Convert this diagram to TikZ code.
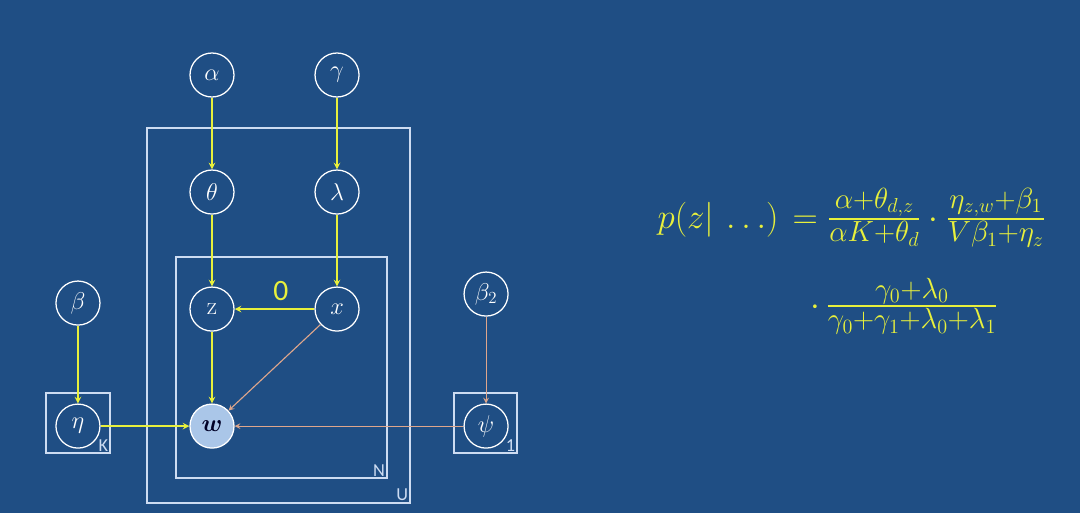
\documentclass[tikz,border=0pt]{standalone}
\usepackage{amsmath,amssymb}
\usepackage{fontspec}
\setsansfont{Carlito}
\usetikzlibrary{positioning,arrows}
\definecolor{slide}{RGB}{31,78,132}
\definecolor{hilite}{RGB}{232,240,60}
\definecolor{salmon}{RGB}{222,166,140}
\definecolor{platec}{RGB}{205,220,242}
\definecolor{obsfill}{RGB}{170,198,232}

\begin{document}
\begin{tikzpicture}[x=0.025cm,y=-0.025cm,node distance=2.925cm and 3.125cm,on grid,>=stealth,thick]
\tikzstyle{var}=[circle,draw=white,line width=0.9pt,minimum size=1.1cm,inner sep=0pt,text=white,font=\fontsize{18}{20}\selectfont]
\tikzstyle{obs}=[var,fill=obsfill,text=black!85!blue]
\tikzstyle{plate}=[draw=platec,line width=0.8pt]
\tikzstyle{yel}=[->,draw=hilite,line width=1.1pt]
\tikzstyle{sal}=[->,draw=salmon,line width=0.8pt]
\tikzstyle{tag}=[font=\sffamily\fontsize{13}{15}\selectfont,text=platec,anchor=south east,inner sep=1pt]
\tikzstyle{eqn}=[text=hilite,inner sep=0pt]

\useasboundingbox (0,0) rectangle (1080,513);
\fill[slide] (0,0) rectangle (1080,513);

% plates
\draw[plate] (147,128) rectangle (410,503);
\draw[plate] (176,257) rectangle (387,478);
\draw[plate] (46,393) rectangle (110,453);
\draw[plate] (454,393) rectangle (517,453);
\node[tag] (U) at (410,503) {U};
\node[tag] (N) at (387,478) {N};
\node[tag] (K) at (110,453) {K};
\node[tag] (one) at (517,453) {1};

% variables
\node[var] (alpha) at (212,75) {$\alpha$};
\node[var, right=of alpha] (gamma) {$\gamma$};
\node[var, below=of alpha] (theta) {$\theta$};
\node[var, below=of gamma] (lambda) {$\lambda$};
\node[var, below=of theta] (z) {z};
\node[var, below=of lambda] (x) {$x$};
\node[obs, below=of z] (w) {$\boldsymbol{w}$};
\node[var, left=3.35cm of w] (eta) {$\eta$};
\node[var, above=3.075cm of eta] (beta) {$\beta$};
\node[var, right=6.85cm of w] (psi) {$\psi$};
\node[var, above=3.3cm of psi] (beta2) {$\beta_2$};

% edges
\draw[yel] (alpha) -- (theta);
\draw[yel] (gamma) -- (lambda);
\draw[yel] (theta) -- (z);
\draw[yel] (lambda) -- (x);
\draw[yel] (x) -- node[pos=0.42,above=2pt,font=\sffamily\fontsize{21}{24}\selectfont,text=hilite] (zero) {0} (z);
\draw[yel] (z) -- (w);
\draw[yel] (beta) -- (eta);
\draw[yel] (eta) -- (w);
\draw[sal] (x) -- (w);
\draw[sal] (beta2) -- (psi);
\draw[sal] (psi) -- (w);

% update rule
\node[eqn,anchor=base west] (rule) at (657,228)
  {{\fontsize{23}{28}\selectfont$p(z|\,\ldots)$\hspace{10pt}$=$}\hspace{7pt}{\fontsize{28}{32}\selectfont$\frac{\alpha+\theta_{d,z}}{\alpha K+\theta_d}\cdot\frac{\eta_{z,w}+\beta_1}{V\beta_1+\eta_z}$}};
\node[eqn,anchor=base west] (rule2) at (810,315)
  {\fontsize{28}{32}\selectfont$\cdot\,\frac{\gamma_0+\lambda_0}{\gamma_0+\gamma_1+\lambda_0+\lambda_1}$};
\end{tikzpicture}
\end{document}
